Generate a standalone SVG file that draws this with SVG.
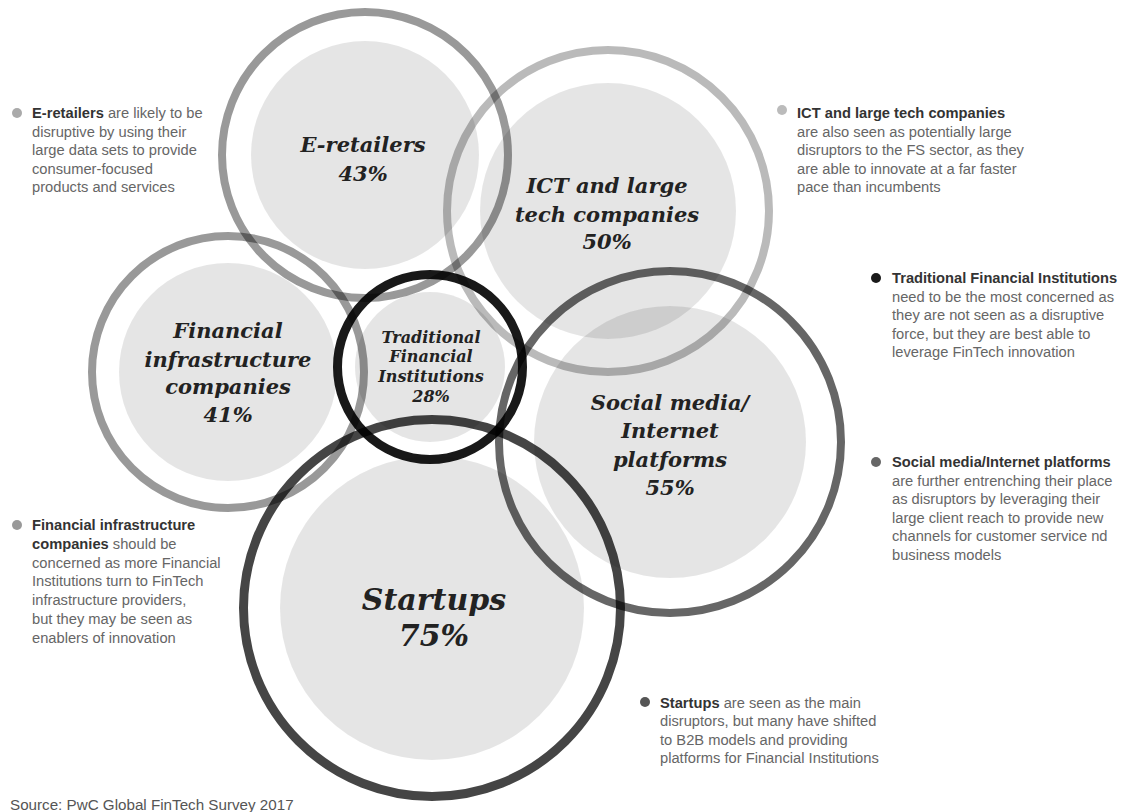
<svg xmlns="http://www.w3.org/2000/svg" width="1123" height="812" viewBox="0 0 1123 812">
<style>
.disc{fill:#000;fill-opacity:0.1}
.ring{fill:none;stroke:#000}
.lbl{font-family:"DejaVu Serif","Liberation Serif",serif;font-weight:bold;font-style:italic;font-size:21px;fill:#222;text-anchor:middle}
.note{font-family:"Liberation Sans",Arial,sans-serif;font-size:14.7px;fill:#666}
.note .b{font-weight:bold;fill:#333}
.src{font-family:"Liberation Sans",Arial,sans-serif;font-size:15.2px;fill:#555}
</style>
<rect width="1123" height="812" fill="#fff"/>
<g id="connectors"/>
<g id="node-eretailers">
<circle class="disc" cx="365" cy="155" r="114"/>
<circle class="ring" cx="365" cy="155" r="143" stroke-width="8" stroke-opacity="0.4"/>
<text class="lbl" x="363" y="152">E-retailers</text>
<text class="lbl" x="363" y="181">43%</text>
</g>
<g id="node-ict">
<circle class="disc" cx="608" cy="211" r="128"/>
<circle class="ring" cx="608" cy="211" r="161" stroke-width="8" stroke-opacity="0.27"/>
<text class="lbl" x="607" y="193">ICT and large</text>
<text class="lbl" x="607" y="222">tech companies</text>
<text class="lbl" x="607" y="249">50%</text>
</g>
<g id="node-fininfra">
<circle class="disc" cx="228" cy="372" r="109"/>
<circle class="ring" cx="228" cy="372" r="136" stroke-width="8" stroke-opacity="0.4"/>
<text class="lbl" x="228" y="338">Financial</text>
<text class="lbl" x="228" y="367">infrastructure</text>
<text class="lbl" x="228" y="394">companies</text>
<text class="lbl" x="228" y="422">41%</text>
</g>
<g id="node-social">
<circle class="disc" cx="670" cy="442" r="136"/>
<circle class="ring" cx="670" cy="442" r="171" stroke-width="8" stroke-opacity="0.6"/>
<text class="lbl" x="670" y="410">Social media/</text>
<text class="lbl" x="670" y="438">Internet</text>
<text class="lbl" x="670" y="467">platforms</text>
<text class="lbl" x="670" y="495">55%</text>
</g>
<g id="node-startups">
<circle class="disc" cx="432" cy="608" r="152"/>
<circle class="ring" cx="432" cy="608" r="188.5" stroke-width="9" stroke-opacity="0.73"/>
<text class="lbl" x="434" y="610" style="font-size:30px">Startups</text>
<text class="lbl" x="434" y="646" style="font-size:30px">75%</text>
</g>
<g id="node-traditional">
<circle class="disc" cx="430" cy="367" r="75"/>
<circle class="ring" cx="430" cy="367" r="92.5" stroke-width="9" stroke-opacity="0.9"/>
<text class="lbl" x="431" y="343" style="font-size:16px">Traditional</text>
<text class="lbl" x="431" y="362" style="font-size:16px">Financial</text>
<text class="lbl" x="431" y="382" style="font-size:16px">Institutions</text>
<text class="lbl" x="431" y="402" style="font-size:16px">28%</text>
</g>
<g id="note-eretailers">
<circle cx="17" cy="113" r="5" fill="#aaa"/>
<text class="note" x="32" y="118"><tspan class="b">E-retailers</tspan> are likely to be</text>
<text class="note" x="32" y="136.5">disruptive by using their</text>
<text class="note" x="32" y="155">large data sets to provide</text>
<text class="note" x="32" y="173.5">consumer-focused</text>
<text class="note" x="32" y="192">products and services</text>
</g>
<g id="note-ict">
<circle cx="782" cy="110" r="5" fill="#bbb"/>
<text class="note" x="797" y="118"><tspan class="b">ICT and large tech companies</tspan></text>
<text class="note" x="797" y="136.5">are also seen as potentially large</text>
<text class="note" x="797" y="155">disruptors to the FS sector, as they</text>
<text class="note" x="797" y="173.5">are able to innovate at a far faster</text>
<text class="note" x="797" y="192">pace than incumbents</text>
</g>
<g id="note-traditional">
<circle cx="876" cy="278" r="5" fill="#1a1a1a"/>
<text class="note" x="892" y="283"><tspan class="b">Traditional Financial Institutions</tspan></text>
<text class="note" x="892" y="301.5">need to be the most concerned as</text>
<text class="note" x="892" y="320">they are not seen as a disruptive</text>
<text class="note" x="892" y="338.5">force, but they are best able to</text>
<text class="note" x="892" y="357">leverage FinTech innovation</text>
</g>
<g id="note-social">
<circle cx="876" cy="462" r="5" fill="#666"/>
<text class="note" x="892" y="467"><tspan class="b">Social media/Internet platforms</tspan></text>
<text class="note" x="892" y="485.6">are further entrenching their place</text>
<text class="note" x="892" y="504.2">as disruptors by leveraging their</text>
<text class="note" x="892" y="522.8">large client reach to provide new</text>
<text class="note" x="892" y="541.4">channels for customer service nd</text>
<text class="note" x="892" y="560">business models</text>
</g>
<g id="note-fininfra">
<circle cx="17" cy="525" r="5" fill="#999"/>
<text class="note" x="32" y="530"><tspan class="b">Financial infrastructure</tspan></text>
<text class="note" x="32" y="548.8"><tspan class="b">companies</tspan> should be</text>
<text class="note" x="32" y="567.6">concerned as more Financial</text>
<text class="note" x="32" y="586.4">Institutions turn to FinTech</text>
<text class="note" x="32" y="605.2">infrastructure providers,</text>
<text class="note" x="32" y="624">but they may be seen as</text>
<text class="note" x="32" y="642.8">enablers of innovation</text>
</g>
<g id="note-startups">
<circle cx="645" cy="702" r="5" fill="#555"/>
<text class="note" x="660" y="707.5"><tspan class="b">Startups</tspan> are seen as the main</text>
<text class="note" x="660" y="726">disruptors, but many have shifted</text>
<text class="note" x="660" y="744.5">to B2B models and providing</text>
<text class="note" x="660" y="763">platforms for Financial Institutions</text>
</g>
<text class="src" x="10" y="810">Source: PwC Global FinTech Survey 2017</text>
</svg>
